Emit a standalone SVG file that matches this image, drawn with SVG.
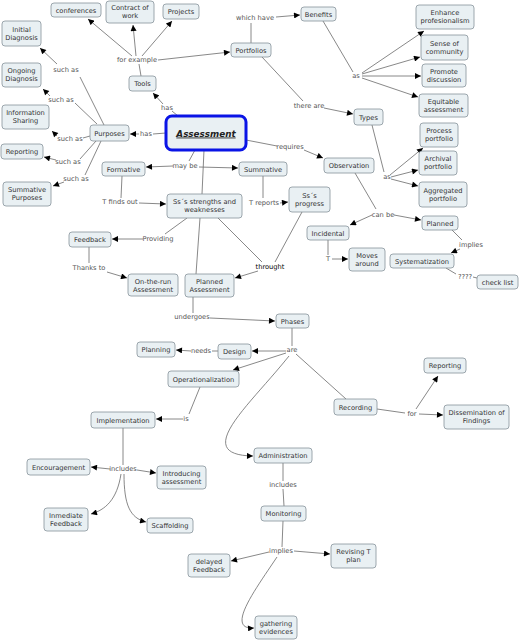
<svg xmlns="http://www.w3.org/2000/svg" width="520" height="640" viewBox="0 0 520 640">
<style>
.n rect{fill:#e9f0f3;stroke:#87939a;stroke-width:0.8}
.n text{font-family:"DejaVu Sans",Verdana,sans-serif;font-size:6.7px;fill:#333;text-anchor:middle}
.l{font-family:"DejaVu Sans",Verdana,sans-serif;font-size:6.7px;fill:#555;text-anchor:middle}
.c path{fill:none;stroke:#6a6a6a;stroke-width:0.8}
.a{marker-end:url(#ah)}
</style>
<defs>
<marker id="ah" viewBox="0 0 10 10" refX="10" refY="5" markerWidth="7" markerHeight="6" markerUnits="userSpaceOnUse" orient="auto">
<path d="M0 0 L10 5 L0 10 Z" fill="#000"/>
</marker>
</defs>
<rect width="520" height="640" fill="#fff"/>
<g class="c" id="connectors">
<path d="M178 116 L172 111"/><path class="a" d="M163 104 L153 93"/>
<path d="M166 133 L153 134"/><path class="a" d="M139 134 L130 134"/>
<path d="M104 125 L80 77"/><path class="a" d="M57 64 L40 48"/>
<path d="M97 124 L75 103"/><path class="a" d="M50 96 L43 89"/>
<path d="M90 136 L83 138"/><path class="a" d="M57 136 L52 131"/>
<path d="M96 141 L80 159"/><path class="a" d="M56 160 L44 157"/>
<path d="M101 141 L85 175"/><path class="a" d="M64 182 L53 186"/>
<path d="M141 76 L139 64"/>
<path class="a" d="M132 56 L88 19"/><path class="a" d="M136 56 L133 25"/><path class="a" d="M142 56 L172 21"/><path class="a" d="M158 60 L230 52"/>
<path d="M251 43 L251 23"/><path class="a" d="M276 17 L300 15"/>
<path d="M323 21 L353 72"/>
<path class="a" d="M362 73 L424 31"/><path class="a" d="M362 74 L420 57"/><path class="a" d="M362 76 L421 76"/><path class="a" d="M362 78 L418 97"/>
<path d="M262 57 L303 101"/><path class="a" d="M324 108 L353 114"/>
<path d="M372 125 L384 172"/>
<path class="a" d="M390 175 L423 148"/><path class="a" d="M391 177 L418 170"/><path class="a" d="M391 179 L418 186"/>
<path d="M246 140 L277 146"/><path class="a" d="M304 150 L323 158"/>
<path d="M355 173 L376 209"/><path class="a" d="M372 215 L350 225"/><path class="a" d="M394 215 L421 220"/>
<path d="M452 230 L462 240"/><path class="a" d="M460 249 L451 253"/>
<path d="M446 268 L456 274"/><path d="M473 277 L477 278"/>
<path d="M328 240 L328 255"/><path class="a" d="M332 259 L348 259"/>
<path d="M195 150 L189 161"/><path class="a" d="M173 166 L146 167"/><path class="a" d="M199 167 L238 168"/>
<path d="M204 150 L202 194"/><path d="M200 218 L196 274"/>
<path d="M122 176 L121 198"/><path class="a" d="M139 203 L166 204"/>
<path d="M263 176 L263 198"/><path class="a" d="M280 203 L288 202"/>
<path d="M187 218 L165 234"/><path class="a" d="M143 239 L112 239"/>
<path d="M89 247 L89 263"/><path class="a" d="M107 272 L127 278"/>
<path d="M218 218 L262 262"/><path d="M302 212 L275 262"/><path class="a" d="M258 271 L235 278"/>
<path d="M193 297 L193 313"/><path class="a" d="M210 318 L275 321"/>
<path d="M292 328 L292 346"/>
<path class="a" d="M286 351 L252 351"/><path class="a" d="M286 353 L233 370"/>
<path class="a" d="M289 356 C250 405 190 455 253 456"/>
<path d="M296 354 L346 399"/>
<path d="M218 351 L212 351"/><path class="a" d="M191 351 L176 350"/>
<path d="M200 387 L189 414"/><path class="a" d="M183 419 L156 419"/>
<path d="M123 428 L123 465"/>
<path class="a" d="M110 469 L91 467"/><path class="a" d="M137 470 L156 473"/>
<path class="a" d="M121 474 C117 500 105 510 91 514"/>
<path class="a" d="M124 474 C124 505 130 518 146 522"/>
<path d="M377 409 L405 413"/><path class="a" d="M416 409 L438 376"/><path class="a" d="M419 414 L443 415"/>
<path d="M283 463 L283 481"/><path d="M283 489 L284 506"/>
<path d="M283 521 L282 547"/>
<path class="a" d="M269 552 L231 561"/><path class="a" d="M294 551 L330 554"/>
<path class="a" d="M277 557 C255 590 225 630 254 628"/>
</g>
<g id="labels">
<text class="l" x="167" y="110">has</text>
<text class="l" x="146" y="136">has</text>
<text class="l" x="137" y="62">for example</text>
<text class="l" x="66" y="72">such as</text>
<text class="l" x="61" y="102">such as</text>
<text class="l" x="70" y="141">such as</text>
<text class="l" x="68" y="164">such as</text>
<text class="l" x="76" y="181">such as</text>
<text class="l" x="255" y="20">which have</text>
<text class="l" x="356" y="78">as</text>
<text class="l" x="309" y="108">there are</text>
<text class="l" x="290" y="149">requires</text>
<text class="l" x="387" y="179">as</text>
<text class="l" x="383" y="217">can be</text>
<text class="l" x="471" y="247">implies</text>
<text class="l" x="328" y="261">T</text>
<text class="l" x="465" y="279">????</text>
<text class="l" x="185" y="168">may be</text>
<text class="l" x="120" y="204">T finds out</text>
<text class="l" x="264" y="205">T reports</text>
<text class="l" x="158" y="241">Providing</text>
<text class="l" x="89" y="270">Thanks to</text>
<text class="l" x="270" y="269" style="fill:#000">throught</text>
<text class="l" x="192" y="319">undergoes</text>
<text class="l" x="292" y="352">are</text>
<text class="l" x="201" y="353">needs</text>
<text class="l" x="186" y="421">is</text>
<text class="l" x="123" y="471">includes</text>
<text class="l" x="412" y="416">for</text>
<text class="l" x="283" y="487">includes</text>
<text class="l" x="281" y="553">implies</text>
</g>
<g id="assessment"><rect x="166" y="116" width="80" height="34" rx="6" fill="#e9f0f3" stroke="#0a14e6" stroke-width="3"/><text x="206" y="136.5" style="font-family:'DejaVu Sans',Verdana,sans-serif;font-size:8.8px;font-weight:bold;font-style:italic;fill:#222;text-anchor:middle;text-decoration:underline">Assessment</text></g>
<g class="n" id="tools"><rect x="129" y="76" width="27" height="15" rx="3"/><text x="142.5" y="86">Tools</text></g>
<g class="n" id="purposes"><rect x="90" y="125" width="39" height="16" rx="3"/><text x="109.5" y="135.5">Purposes</text></g>
<g class="n" id="conferences"><rect x="51" y="3" width="50" height="14" rx="3"/><text x="76" y="12.5">conferences</text></g>
<g class="n" id="contract"><rect x="106" y="1" width="48" height="22" rx="3"/><text x="130" y="10">Contract of</text><text x="130" y="18.3">work</text></g>
<g class="n" id="projects"><rect x="163" y="4" width="36" height="15" rx="3"/><text x="181" y="14">Projects</text></g>
<g class="n" id="portfolios"><rect x="231" y="43" width="40" height="14" rx="3"/><text x="251" y="52.5">Portfolios</text></g>
<g class="n" id="benefits"><rect x="301" y="7" width="35" height="14" rx="3"/><text x="318.5" y="16.5">Benefits</text></g>
<g class="n" id="enhance"><rect x="416" y="5" width="58" height="24" rx="3"/><text x="445" y="15">Enhance</text><text x="445" y="23.3">profesionalism</text></g>
<g class="n" id="sense"><rect x="421" y="35" width="47" height="25" rx="3"/><text x="444.5" y="45.5">Sense of</text><text x="444.5" y="53.8">community</text></g>
<g class="n" id="promote"><rect x="422" y="64" width="44" height="23" rx="3"/><text x="444" y="74">Promote</text><text x="444" y="82.3">discussion</text></g>
<g class="n" id="equitable"><rect x="419" y="94" width="49" height="23" rx="3"/><text x="443.5" y="104">Equitable</text><text x="443.5" y="112.3">assessment</text></g>
<g class="n" id="types"><rect x="354" y="109" width="29" height="16" rx="3"/><text x="368.5" y="119.5">Types</text></g>
<g class="n" id="process"><rect x="420" y="123" width="38" height="24" rx="3"/><text x="439" y="133">Process</text><text x="439" y="141.3">portfolio</text></g>
<g class="n" id="archival"><rect x="419" y="151" width="38" height="24" rx="3"/><text x="438" y="161">Archival</text><text x="438" y="169.3">portfolio</text></g>
<g class="n" id="aggregated"><rect x="419" y="182" width="48" height="25" rx="3"/><text x="443" y="192.5">Aggregated</text><text x="443" y="200.8">portfolio</text></g>
<g class="n" id="observation"><rect x="324" y="158" width="50" height="15" rx="3"/><text x="349" y="168">Observation</text></g>
<g class="n" id="initial"><rect x="2" y="21" width="39" height="25" rx="3"/><text x="21.5" y="31.5">Initial</text><text x="21.5" y="39.8">Diagnosis</text></g>
<g class="n" id="ongoing"><rect x="2" y="63" width="39" height="24" rx="3"/><text x="21.5" y="73">Ongoing</text><text x="21.5" y="81.3">Diagnosis</text></g>
<g class="n" id="infosharing"><rect x="2" y="105" width="47" height="24" rx="3"/><text x="25.5" y="115">Information</text><text x="25.5" y="123.3">Sharing</text></g>
<g class="n" id="reporting1"><rect x="1" y="144" width="42" height="15" rx="3"/><text x="22" y="154">Reporting</text></g>
<g class="n" id="sumpurposes"><rect x="3" y="182" width="48" height="24" rx="3"/><text x="27" y="192">Summative</text><text x="27" y="200.3">Purposes</text></g>
<g class="n" id="formative"><rect x="102" y="162" width="43" height="14" rx="3"/><text x="123.5" y="171.5">Formative</text></g>
<g class="n" id="summative"><rect x="239" y="162" width="48" height="14" rx="3"/><text x="263" y="171.5">Summative</text></g>
<g class="n" id="strengths"><rect x="167" y="194" width="75" height="24" rx="3"/><text x="204.5" y="204">Ss´s strengths and</text><text x="204.5" y="212.3">weaknesses</text></g>
<g class="n" id="progress"><rect x="289" y="187" width="41" height="25" rx="3"/><text x="309.5" y="197.5">Ss´s</text><text x="309.5" y="205.8">progress</text></g>
<g class="n" id="incidental"><rect x="307" y="226" width="42" height="14" rx="3"/><text x="328" y="235.5">Incidental</text></g>
<g class="n" id="planned"><rect x="422" y="216" width="36" height="14" rx="3"/><text x="440" y="225.5">Planned</text></g>
<g class="n" id="moves"><rect x="349" y="248" width="36" height="23" rx="3"/><text x="367" y="258">Moves</text><text x="367" y="266.3">around</text></g>
<g class="n" id="systematization"><rect x="390" y="254" width="64" height="14" rx="3"/><text x="422" y="263.5">Systematization</text></g>
<g class="n" id="checklist"><rect x="477" y="275" width="41" height="14" rx="3"/><text x="497.5" y="284.5">check list</text></g>
<g class="n" id="feedback"><rect x="69" y="232" width="42" height="15" rx="3"/><text x="90" y="242">Feedback</text></g>
<g class="n" id="ontherun"><rect x="128" y="274" width="50" height="22" rx="3"/><text x="153" y="283.5">On-the-run</text><text x="153" y="291.8">Assessment</text></g>
<g class="n" id="plannedassessment"><rect x="185" y="274" width="49" height="23" rx="3"/><text x="209.5" y="284">Planned</text><text x="209.5" y="292.3">Assessment</text></g>
<g class="n" id="phases"><rect x="276" y="314" width="33" height="14" rx="3"/><text x="292.5" y="323.5">Phases</text></g>
<g class="n" id="planning"><rect x="137" y="342" width="38" height="15" rx="3"/><text x="156" y="352">Planning</text></g>
<g class="n" id="design"><rect x="218" y="344" width="33" height="15" rx="3"/><text x="234.5" y="354">Design</text></g>
<g class="n" id="operationalization"><rect x="168" y="371" width="71" height="16" rx="3"/><text x="203.5" y="381.5">Operationalization</text></g>
<g class="n" id="implementation"><rect x="91" y="412" width="64" height="16" rx="3"/><text x="123" y="422.5">Implementation</text></g>
<g class="n" id="recording"><rect x="334" y="399" width="43" height="16" rx="3"/><text x="355.5" y="409.5">Recording</text></g>
<g class="n" id="reporting2"><rect x="424" y="358" width="42" height="15" rx="3"/><text x="445" y="368">Reporting</text></g>
<g class="n" id="dissemination"><rect x="444" y="405" width="65" height="24" rx="3"/><text x="476.5" y="415">Dissemination of</text><text x="476.5" y="423.3">Findings</text></g>
<g class="n" id="administration"><rect x="254" y="448" width="58" height="15" rx="3"/><text x="283" y="458">Administration</text></g>
<g class="n" id="encouragement"><rect x="27" y="459" width="63" height="16" rx="3"/><text x="58.5" y="469.5">Encouragement</text></g>
<g class="n" id="introducing"><rect x="157" y="466" width="49" height="23" rx="3"/><text x="181.5" y="476">Introducing</text><text x="181.5" y="484.3">assessment</text></g>
<g class="n" id="inmediate"><rect x="44" y="508" width="44" height="23" rx="3"/><text x="66" y="518">Inmediate</text><text x="66" y="526.3">Feedback</text></g>
<g class="n" id="scaffolding"><rect x="147" y="518" width="46" height="15" rx="3"/><text x="170" y="528">Scaffolding</text></g>
<g class="n" id="monitoring"><rect x="261" y="506" width="45" height="15" rx="3"/><text x="283.5" y="516">Monitoring</text></g>
<g class="n" id="delayed"><rect x="188" y="554" width="42" height="23" rx="3"/><text x="209" y="564">delayed</text><text x="209" y="572.3">Feedback</text></g>
<g class="n" id="revising"><rect x="331" y="544" width="45" height="24" rx="3"/><text x="353.5" y="554">Revising T</text><text x="353.5" y="562.3">plan</text></g>
<g class="n" id="gathering"><rect x="255" y="616" width="42" height="23" rx="3"/><text x="276" y="626">gathering</text><text x="276" y="634.3">evidences</text></g>
</svg>
